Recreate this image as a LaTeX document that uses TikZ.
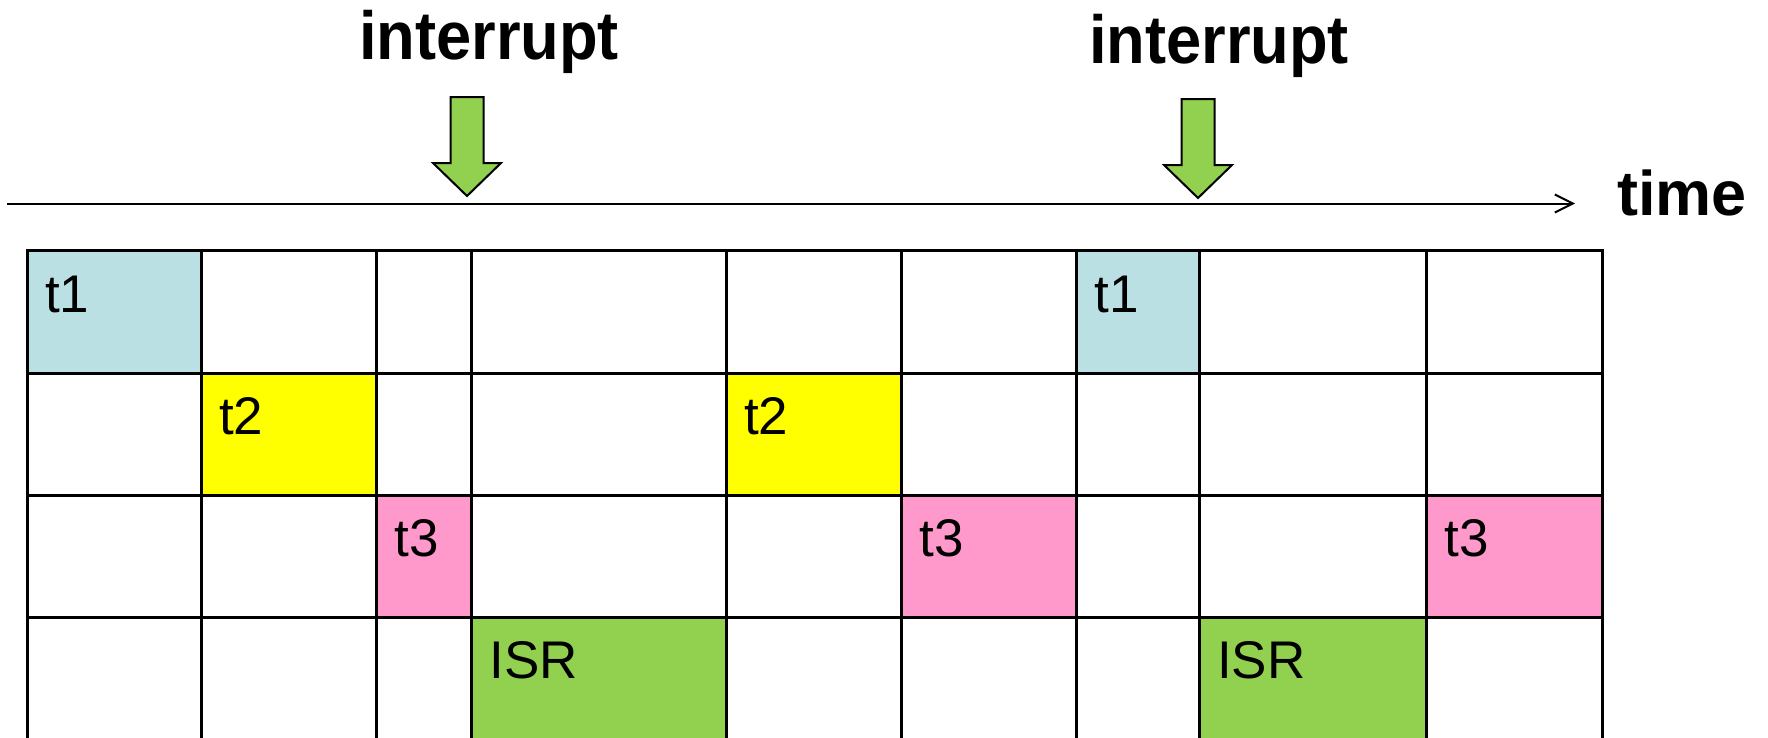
\documentclass[tikz,border=0pt]{standalone}
\usepackage{fontspec}
\setmainfont{Liberation Sans}
\usetikzlibrary{arrows.meta}
\definecolor{taskone}{RGB}{187,224,227}
\definecolor{tasktwo}{RGB}{255,255,0}
\definecolor{taskthree}{RGB}{255,153,204}
\definecolor{isrgreen}{RGB}{146,208,80}
\begin{document}
\begin{tikzpicture}[x=1pt,y=-1pt,
  gridline/.style={line width=3pt,line cap=rect},
  celllabel/.style={anchor=base west,inner sep=0pt,font=\fontsize{53}{60}\selectfont},
  headlabel/.style={anchor=base,inner sep=0pt,xscale=0.93,font=\bfseries\fontsize{68}{76}\selectfont},
  irqarrow/.style={fill=isrgreen,draw=black,line width=2pt,line join=miter}]
\useasboundingbox (0,0) rectangle (1768,737);
\clip (0,0) rectangle (1768,737);

% coloured time slots
\fill[taskone]   (27,250.5)   rectangle (201,373);
\fill[taskone]   (1076.5,250.5) rectangle (1199,373);
\fill[tasktwo]   (201,373)    rectangle (376.6,495);
\fill[tasktwo]   (726,373)    rectangle (901.5,495);
\fill[taskthree] (376.6,495)  rectangle (471.5,617);
\fill[taskthree] (901.5,495)  rectangle (1076.5,617);
\fill[taskthree] (1426.7,495) rectangle (1602,617);
\fill[isrgreen]  (471.5,617)  rectangle (726,745);
\fill[isrgreen]  (1199,617)   rectangle (1426.7,745);

% table grid
\foreach \x in {27,201,376.6,471.5,726,901.5,1076.5,1199,1426.7,1602}
  \draw[gridline] (\x,250.5) -- (\x,745);
\foreach \y in {250.5,373,495,617}
  \draw[gridline] (27,\y) -- (1602,\y);

% slot labels
\node[celllabel] (ta) at (45,312.5) {t1};
\node[celllabel] (tb) at (1094.5,312.5) {t1};
\node[celllabel] (tc) at (219,434.5) {t2};
\node[celllabel] (td) at (744,434.5) {t2};
\node[celllabel] (te) at (394.6,556.5) {t3};
\node[celllabel] (tf) at (919.5,556.5) {t3};
\node[celllabel] (tg) at (1444.7,556.5) {t3};
\node[celllabel] (isra) at (489.5,678) {ISR};
\node[celllabel] (isrb) at (1217,678) {ISR};

% time axis
\coordinate (axisstart) at (7,203.5);
\coordinate (axisend) at (1575,203.5);
\draw[line width=2pt,-{Straight Barb[length=18pt,width=18pt]}] (axisstart) -- (axisend);
\node[anchor=base west,inner sep=0pt,font=\bfseries\fontsize{63}{70}\selectfont] (timelbl) at (1617,215) {time};

% interrupt markers
\node[headlabel] (irqa) at (489,59) {interrupt};
\node[headlabel] (irqb) at (1219,63.5) {interrupt};
\draw[irqarrow] (450.5,97) -- (483.5,97) -- (483.5,163) -- (501,163) -- (467,196)
  -- (433,163) -- (450.5,163) -- cycle;
\draw[irqarrow] (1181.5,99) -- (1214.5,99) -- (1214.5,165) -- (1232,165) -- (1198,198)
  -- (1164,165) -- (1181.5,165) -- cycle;
\end{tikzpicture}
\end{document}
